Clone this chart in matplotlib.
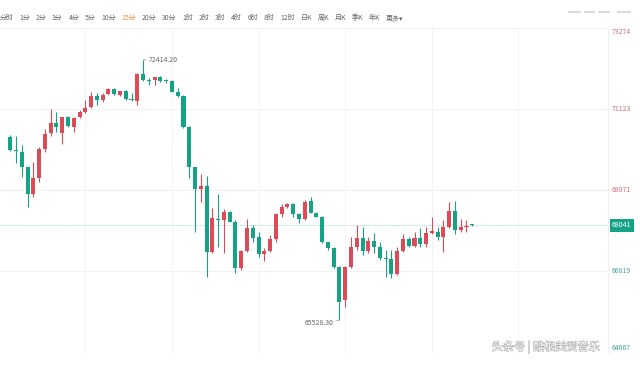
import numpy as np
import matplotlib
matplotlib.use("Agg")
import matplotlib.pyplot as plt
from matplotlib.transforms import blended_transform_factory
from matplotlib.lines import Line2D
import matplotlib.patheffects as pe

plt.rcParams['font.family'] = ['Noto Sans CJK SC', 'DejaVu Sans']

# 15 min candles, OHLC
opens = [70383, 70023, 69986, 69573, 68866, 69281, 70049, 70473, 70754, 70489,
         70897, 70648, 70897, 71037, 71162, 71461, 71355, 71514, 71651, 71487,
         71593, 71363, 71336, 72043, 71871, 71884, 71956, 71871, 71858, 71575,
         71461, 70632, 69589, 68990, 69078, 67338, 68204, 68164, 68397, 68132,
         66898, 67364, 67957, 67735, 67269, 67357, 67666, 68328, 68529, 68594,
         68328, 68204, 68681, 68355, 68265, 67587, 67444, 66941, 66058, 66941,
         67470, 67692, 67357, 67621, 67470, 67163, 67136, 66747, 67364, 67666,
         67489, 67709, 67542, 67825, 67859, 67714, 68000, 68402, 67913, 67992,
         68050]
highs = [70428, 70401, 70163, 69581, 69721, 70118, 70579, 71109, 71045, 70913,
         70931, 70913, 71090, 71355, 71575, 71548, 71548, 71665, 71673, 71593,
         71620, 71532, 72062, 72414.2, 71930, 71972, 71990, 71903, 71884, 71665,
         71487, 70666, 69589, 69395, 69342, 68487, 68866, 68461, 68424, 68177,
         67383, 68196, 68045, 67867, 67444, 67780, 68355, 68594, 68620, 68636,
         68371, 68707, 68794, 68371, 68283, 67603, 67470, 66959, 66959, 67735,
         68045, 67999, 67735, 67825, 67603, 67383, 67383, 67470, 67798, 67735,
         67867, 67957, 67999, 68265, 67992, 68177, 68654, 68667, 68204, 68177,
         68070]
lows = [70004, 69687, 69324, 68529, 68794, 69191, 69986, 70402, 70515, 70190,
        70632, 70515, 70870, 71003, 71135, 71222, 71310, 71487, 71487, 71461,
        71355, 71336, 71222, 71866, 71752, 71752, 71840, 71797, 71559, 71442,
        70606, 69281, 67867, 68662, 66676, 67295, 67470, 67303, 68111, 66766,
        66842, 67338, 67603, 67189, 67099, 67338, 67603, 68265, 68487, 68265,
        68090, 68177, 68355, 68244, 67561, 67383, 66898, 65528.3, 65881, 66898,
        67383, 67251, 67295, 67295, 67118, 66676, 66641, 66721, 67322, 67454,
        67470, 67470, 67470, 67806, 67647, 67330, 67957, 67806, 67846, 67859,
        68015]
closes = [70031, 70004, 69573, 68866, 69281, 70049, 70455, 70754, 70632, 70897,
          70666, 70870, 71037, 71135, 71461, 71355, 71487, 71646, 71500, 71580,
          71373, 71355, 72043, 71884, 71866, 71956, 71866, 71861, 71575, 71461,
          70632, 69589, 68990, 69078, 67338, 68222, 68188, 68397, 68132, 66898,
          67364, 67957, 67692, 67269, 67357, 67666, 68328, 68529, 68594, 68328,
          68204, 68662, 68371, 68265, 67587, 67428, 66941, 66014, 66941, 67470,
          67692, 67357, 67621, 67470, 67163, 67145, 66747, 67364, 67666, 67489,
          67692, 67542, 67825, 67873, 67714, 68000, 68402, 67913, 68000, 68026,
          68041]

price_ticks = [73274, 71123, 68971, 66819, 64667]
last_price = 68041
periods = ['分时', '1分', '2分', '3分', '4分', '5分', '10分', '15分', '20分', '30分',
           '1时', '2时', '3时', '4时', '6时', '8时', '12时', '日K', '周K', '月K',
           '季K', '年K', '更多▾']
active = '15分'
watermark = '头条号 | 酷根美爱音乐'

up = '#dd4b58'
down = '#14a385'

W, H = 640, 365
fig = plt.figure(figsize=(W / 100, H / 100), dpi=100)
ax = fig.add_axes([0, 1 - 352.5 / H, 608 / W, 325 / H])
n = len(opens)
ax.set_xlim(-1.77, 103.5)
ax.set_ylim(price_ticks[-1], price_ticks[0])
for s in ax.spines.values():
    s.set_visible(False)
ax.spines['right'].set_visible(True)
ax.spines['right'].set_color('#eeeeee')
ax.spines['right'].set_linewidth(0.6)
ax.set_xticks([])
ax.set_yticks([])

for p in price_ticks:
    ax.axhline(p, color='#f1f1f1', lw=0.7, zorder=0)
for g in range(13, 100, 15):
    ax.axvline(g, color='#f3f3f3', lw=0.7, zorder=0)

o = np.array(opens); c = np.array(closes)
hi = np.array(highs); lo = np.array(lows)
xs = np.arange(n)
cols = np.where(c >= o, up, down)
ax.vlines(xs, lo, hi, colors=cols, lw=0.8, zorder=2)
body = np.maximum(np.abs(c - o), 25)
ax.bar(xs, body, bottom=np.minimum(o, c), width=0.7, color=cols, zorder=3, linewidth=0)

ax.axhline(last_price, color='#9ed8ca', lw=0.7, ls=(0, (1, 1.2)), zorder=1)

# high / low markers
ih = int(np.argmax(hi)); il = int(np.argmin(lo))
ax.annotate(f'{hi[ih]:.2f}', xy=(ih, hi[ih]), xytext=(4, 0), textcoords='offset points',
            ha='left', va='center', fontsize=5, color='#666666',
            arrowprops=dict(arrowstyle='-', color='#888888', lw=0.5, shrinkA=0, shrinkB=0))
ax.annotate(f'{lo[il]:.2f}', xy=(il, lo[il]), xytext=(-4, -2), textcoords='offset points',
            ha='right', va='center', fontsize=5, color='#666666',
            arrowprops=dict(arrowstyle='-', color='#888888', lw=0.5, shrinkA=0, shrinkB=0))

# price axis labels
tr = blended_transform_factory(fig.transFigure, ax.transData)
for k, p in enumerate(price_ticks):
    col = '#cf6f80' if p > last_price else '#3fa596'
    va = 'center'
    if k == 0:
        va = 'top'
    elif k == len(price_ticks) - 1:
        va = 'bottom'
    fig.text(612 / W, p, str(p), transform=tr, ha='left', va=va, fontsize=5, color=col)
fig.text(612 / W, last_price, str(last_price), transform=tr, ha='left', va='center',
         fontsize=5, color='white',
         bbox=dict(boxstyle='square,pad=0.35', fc=down, ec='none'))

# period toolbar
fig.canvas.draw()
r = fig.canvas.get_renderer()
x = 0
for lab in periods:
    t = fig.text(x / W, 1 - 18 / H, lab, ha='left', va='center', fontsize=5,
                 color='#f08a3c' if lab == active else '#666666')
    bb = t.get_window_extent(r)
    x = bb.x1 + 5.5

# toolbar icons top right
for x0, x1 in [(568, 581), (584, 595), (598, 610), (617, 631)]:
    fig.add_artist(Line2D([x0 / W, x1 / W], [1 - 12 / H, 1 - 12 / H],
                          color='#d5d5d5', lw=1.2, solid_capstyle='butt',
                          transform=fig.transFigure))

fig.text(600 / W, 1 - 347 / H, watermark, ha='right', va='center', fontsize=8,
         color='white',
         path_effects=[pe.withStroke(linewidth=0.7, foreground='#a5a5a5')])

fig.savefig('out.png', dpi=100, facecolor='white')
